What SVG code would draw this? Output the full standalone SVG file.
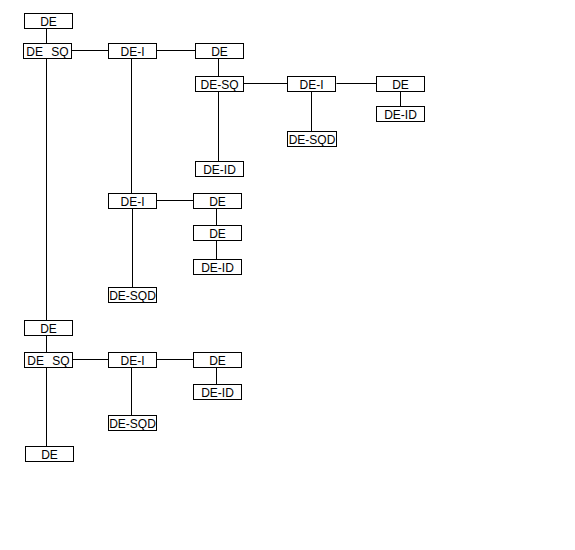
<svg xmlns="http://www.w3.org/2000/svg" width="575" height="550" viewBox="0 0 575 550">
<style>
rect{fill:#fff;stroke:#000;stroke-width:1}
text{font-family:"Liberation Sans",Arial,sans-serif;font-size:12px;fill:#000;text-anchor:middle}
.ws{word-spacing:5px}
#connectors line{stroke:#000;stroke-width:1}
</style>
<rect x="0" y="0" width="575" height="550" style="stroke:none"/>
<g id="connectors">
<line x1="46.5" y1="28.5" x2="46.5" y2="43.5"/>
<line x1="46.5" y1="58.5" x2="46.5" y2="320.5"/>
<line x1="71.5" y1="50.5" x2="108.5" y2="50.5"/>
<line x1="156.5" y1="50.5" x2="195.5" y2="50.5"/>
<line x1="131.5" y1="58.5" x2="131.5" y2="193.5"/>
<line x1="218.5" y1="58.5" x2="218.5" y2="76.5"/>
<line x1="218.5" y1="91.5" x2="218.5" y2="161.5"/>
<line x1="243.5" y1="83.5" x2="287.5" y2="83.5"/>
<line x1="336.5" y1="83.5" x2="376.5" y2="83.5"/>
<line x1="311.5" y1="91.5" x2="311.5" y2="131.5"/>
<line x1="400.5" y1="91.5" x2="400.5" y2="106.5"/>
<line x1="156.5" y1="200.5" x2="193.5" y2="200.5"/>
<line x1="132.5" y1="208.5" x2="132.5" y2="287.5"/>
<line x1="216.5" y1="208.5" x2="216.5" y2="225.5"/>
<line x1="216.5" y1="240.5" x2="216.5" y2="259.5"/>
<line x1="46.5" y1="335.5" x2="46.5" y2="352.5"/>
<line x1="46.5" y1="367.5" x2="46.5" y2="446.5"/>
<line x1="72.5" y1="359.5" x2="108.5" y2="359.5"/>
<line x1="156.5" y1="359.5" x2="193.5" y2="359.5"/>
<line x1="131.5" y1="367.5" x2="131.5" y2="415.5"/>
<line x1="216.5" y1="367.5" x2="216.5" y2="384.5"/>
</g>
<g id="n1"><rect x="24.5" y="13.5" width="48" height="15"/><text x="48.5" y="26">DE</text></g>
<g id="n2"><rect x="23.5" y="43.5" width="48" height="15"/><text class="ws" x="47.5" y="56">DE SQ</text></g>
<g id="n3"><rect x="108.5" y="43.5" width="48" height="15"/><text x="132.5" y="56">DE-I</text></g>
<g id="n4"><rect x="195.5" y="43.5" width="48" height="15"/><text x="219.5" y="56">DE</text></g>
<g id="n5"><rect x="195.5" y="76.5" width="48" height="15"/><text x="219.5" y="89">DE-SQ</text></g>
<g id="n6"><rect x="287.5" y="76.5" width="48" height="15"/><text x="311.5" y="89">DE-I</text></g>
<g id="n7"><rect x="376.5" y="76.5" width="48" height="15"/><text x="400.5" y="89">DE</text></g>
<g id="n8"><rect x="376.5" y="106.5" width="48" height="15"/><text x="400.5" y="119">DE-ID</text></g>
<g id="n9"><rect x="287.5" y="131.5" width="49" height="15"/><text x="312" y="144">DE-SQD</text></g>
<g id="n10"><rect x="195.5" y="161.5" width="48" height="15"/><text x="219.5" y="174">DE-ID</text></g>
<g id="n11"><rect x="108.5" y="193.5" width="48" height="15"/><text x="132.5" y="206">DE-I</text></g>
<g id="n12"><rect x="193.5" y="193.5" width="48" height="15"/><text x="217.5" y="206">DE</text></g>
<g id="n13"><rect x="193.5" y="225.5" width="48" height="15"/><text x="217.5" y="238">DE</text></g>
<g id="n14"><rect x="193.5" y="259.5" width="48" height="15"/><text x="217.5" y="272">DE-ID</text></g>
<g id="n15"><rect x="108.5" y="287.5" width="48" height="15"/><text x="132.5" y="300">DE-SQD</text></g>
<g id="n16"><rect x="24.5" y="320.5" width="48" height="15"/><text x="48.5" y="333">DE</text></g>
<g id="n17"><rect x="24.5" y="352.5" width="48" height="15"/><text class="ws" x="48.5" y="365">DE SQ</text></g>
<g id="n18"><rect x="108.5" y="352.5" width="48" height="15"/><text x="132.5" y="365">DE-I</text></g>
<g id="n19"><rect x="193.5" y="352.5" width="48" height="15"/><text x="217.5" y="365">DE</text></g>
<g id="n20"><rect x="193.5" y="384.5" width="48" height="15"/><text x="217.5" y="397">DE-ID</text></g>
<g id="n21"><rect x="108.5" y="415.5" width="48" height="15"/><text x="132.5" y="428">DE-SQD</text></g>
<g id="n22"><rect x="25.5" y="446.5" width="48" height="15"/><text x="49.5" y="459">DE</text></g>
</svg>
